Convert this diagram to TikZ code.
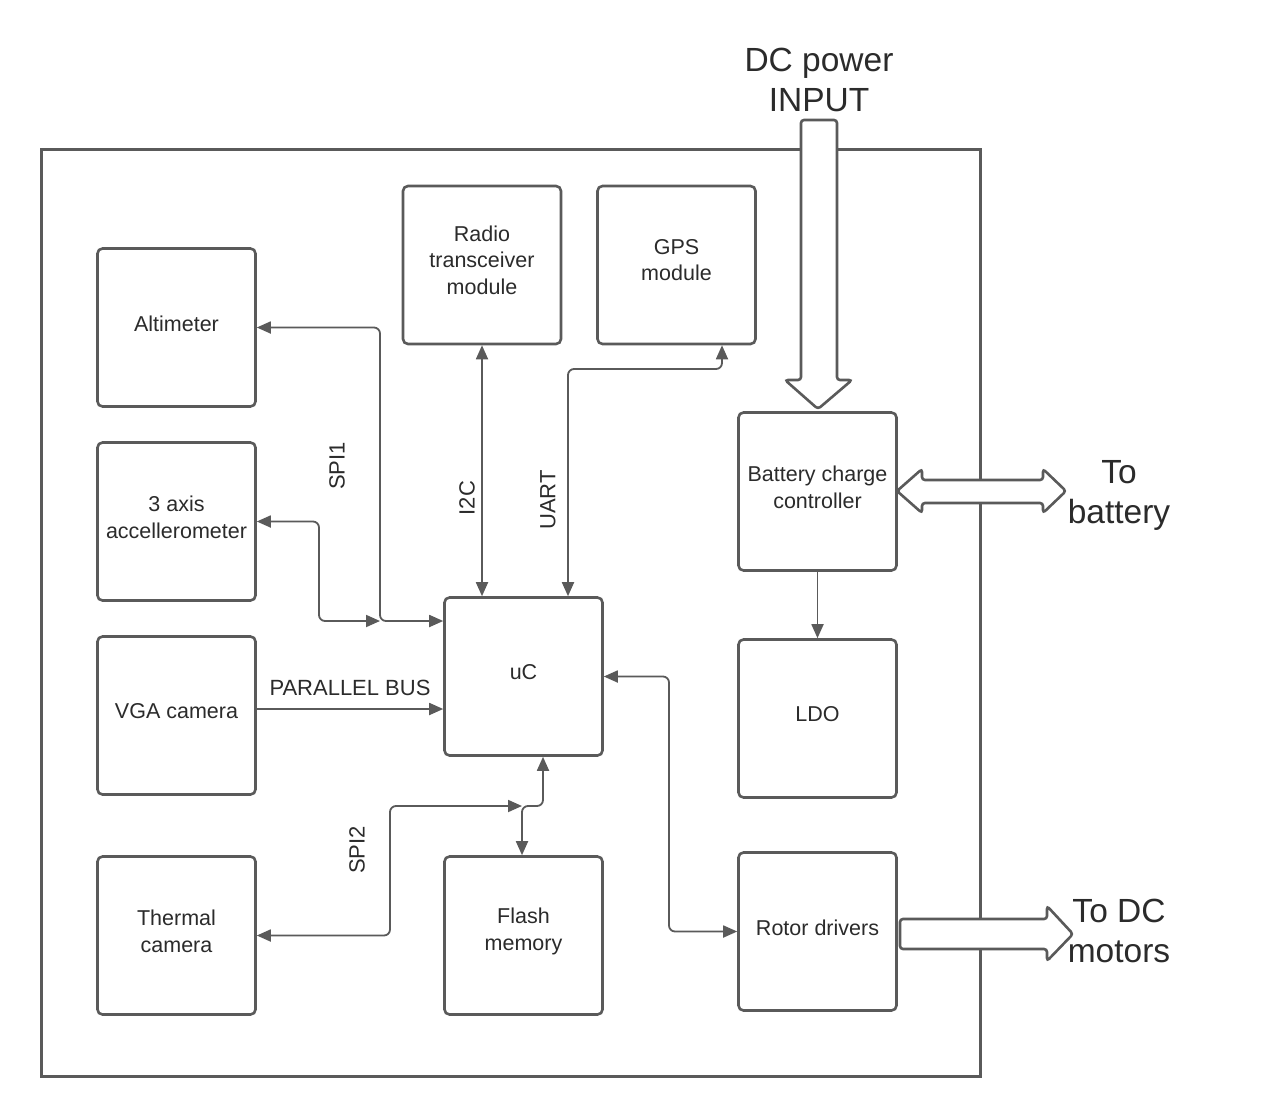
\documentclass[tikz,border=0pt]{standalone}
\usepackage{fontspec}
\setmainfont{Liberation Sans}
\usetikzlibrary{arrows.meta}
\definecolor{ln}{HTML}{5A5A5A}
\definecolor{tx}{HTML}{2B2B2B}
\begin{document}
\begin{tikzpicture}[x=1pt,y=-1pt,
  >={Triangle[length=14pt,width=12pt]},
  blk/.style={draw=ln, line width=2.6pt, rounded corners=5pt, minimum width=158pt, minimum height=158pt, inner sep=0pt},
  btxt/.style={align=center, font=\fontsize{21.5}{26.5}\selectfont, text=tx, inner sep=0pt},
  conn/.style={draw=ln, line width=1.8pt, rounded corners=6pt},
  lbl/.style={font=\fontsize{22}{26}\selectfont, text=tx, inner sep=0pt},
  big/.style={font=\fontsize{33.5}{40}\selectfont, text=tx, align=center, inner sep=0pt},
  blockarrow/.style={draw=ln, fill=white, line width=2.6pt, rounded corners=3pt}
]
\useasboundingbox (0,0) rectangle (1280,1119);
\fill[white] (0,0) rectangle (1280,1119);

% outer frame
\draw[ln, line width=3pt] (41,149) rectangle (980,1076);

% blocks
\node[blk] (alt)   at (176.5,327.5) {};
\node[blk] (acc)   at (176.5,521.5) {};
\node[blk] (vga)   at (176.5,715.5) {};
\node[blk] (therm) at (176.5,935.5) {};
\node[blk] (radio) at (482,265)     {};
\node[blk] (gps)   at (676.5,265)   {};
\node[blk] (uc)    at (523.5,676.5) {};
\node[blk] (flash) at (523.5,935.5) {};
\node[blk] (bcc)   at (817.5,491.5) {};
\node[blk] (ldo)   at (817.5,718.5) {};
\node[blk] (rotor) at (817.5,931.5) {};

\node[btxt] (altT)   at ([yshift=4pt]alt.center)   {Altimeter};
\node[btxt] (accT)   at ([yshift=4pt]acc.center)   {3 axis\\accellerometer};
\node[btxt] (vgaT)   at ([yshift=4pt]vga.center)   {VGA camera};
\node[btxt] (thermT) at ([yshift=4pt]therm.center) {Thermal\\camera};
\node[btxt] (radioT) at ([yshift=5pt]radio.center) {Radio\\transceiver\\module};
\node[btxt] (gpsT)   at ([yshift=5pt]gps.center)   {GPS\\module};
\node[btxt] (ucT)    at ([yshift=4pt]uc.center)    {uC};
\node[btxt] (flashT) at ([yshift=4pt]flash.center) {Flash\\memory};
\node[btxt] (bccT)   at ([yshift=4pt]bcc.center)   {Battery charge\\controller};
\node[btxt] (ldoT)   at ([yshift=4pt]ldo.center)   {LDO};
\node[btxt] (rotorT) at ([yshift=4pt]rotor.center) {Rotor drivers};

% waypoints
\coordinate (s1)  at (380,621);
\coordinate (s1b) at (319,621);
\coordinate (u1)  at (568,369);
\coordinate (u2)  at (722,369);
\coordinate (p)   at (257,709);
\coordinate (t1)  at (390,806);
\coordinate (j)   at (522,806);
\coordinate (j2)  at (543,806);
\coordinate (r1)  at (669,677);

% SPI1
\draw[conn,<->] (alt.east) -- (alt.east -| s1) -- (s1) -- (s1 -| uc.west);
\draw[conn,<->] (acc.east) -- (acc.east -| s1b) -- (s1b) -- (s1);
\node[lbl, rotate=90] (spi1) at (337,466) {SPI1};
% I2C
\draw[conn,<->] (radio.south) -- (uc.north -| radio.south);
\node[lbl, rotate=90] (i2c) at (467,498) {I2C};
% UART
\draw[conn,<->] (uc.north -| u1) -- (u1) -- (u2) -- (gps.south -| u2);
\node[lbl, rotate=90] (uart) at (548,500) {UART};
% parallel bus
\draw[conn,->] (vga.east |- p) -- (uc.west |- p);
\node[lbl] (pbus) at (350,688) {PARALLEL BUS};
% SPI2
\draw[conn,<->] (therm.east) -- (therm.east -| t1) -- (t1) -- (j);
\node[lbl, rotate=90] (spi2) at (357,850) {SPI2};
\draw[conn,<->] (flash.north -| j) -- (j) -- (j2) -- (uc.south -| j2);
% uC - rotor drivers
\draw[conn,<->] (uc.east) -- (uc.east -| r1) -- (r1 |- rotor.west) -- (rotor.west);
% battery -> LDO
\draw[conn,->] (bcc.south) -- (ldo.north);

% block arrows
\draw[blockarrow] (801,120) -- (837,120) -- (837,380) -- (852,380) -- (818,409) -- (785,380) -- (801,380) -- cycle;
\draw[blockarrow] (897,491) -- (922,469) -- (922,480) -- (1043,480) -- (1043,469) -- (1066,491) -- (1043,513) -- (1043,503) -- (922,503) -- (922,513) -- cycle;
\draw[blockarrow] (900,919) -- (1047,919) -- (1047,906) -- (1073,934) -- (1047,961) -- (1047,949) -- (900,949) -- cycle;

\node[big] (dcin) at (819,80) {DC power\\INPUT};
\node[big] (tobat) at (1119,495) {To\\battery};
\node[big] (tomot) at (1119,931) {To DC\\motors};
\end{tikzpicture}
\end{document}
